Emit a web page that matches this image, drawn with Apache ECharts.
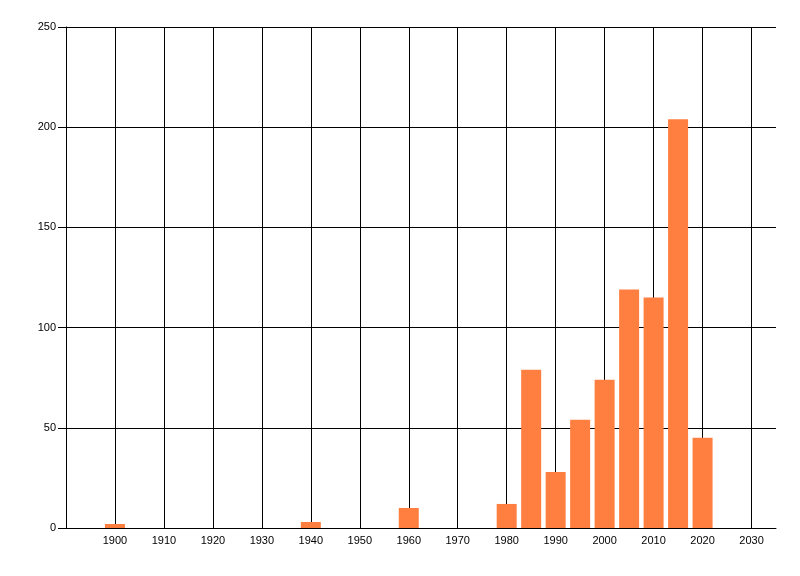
<!DOCTYPE html>
<html>
<head>
<meta charset="utf-8">
<script src="https://cdn.jsdelivr.net/npm/echarts@6/dist/echarts.min.js"></script>
<style>
html,body{margin:0;padding:0;background:#fff;}
#chart{width:800px;height:576px;}
</style>
</head>
<body>
<div id="chart"></div>
<script>
const years = [1900, 1940, 1960, 1980, 1985, 1990, 1995, 2000, 2005, 2010, 2015, 2020];
const counts = [2, 3, 10, 12, 79, 28, 54, 74, 119, 115, 204, 45];
const yTicks = [0, 50, 100, 150, 200, 250];

const chart = echarts.init(document.getElementById('chart'), null, {renderer: 'canvas'});
const fontFamily = '"Liberation Sans", Arial, sans-serif';
chart.setOption({
  animation: false,
  backgroundColor: '#ffffff',
  grid: {left: 66, right: 24, top: 27, bottom: 48, containLabel: false},
  xAxis: {
    type: 'value',
    min: 1890,
    max: 2035,
    interval: 10,
    axisLine: {show: true, lineStyle: {color: '#000', width: 1}},
    axisTick: {show: false},
    axisLabel: {
      color: '#000', fontSize: 11, fontFamily: fontFamily, margin: 7,
      showMinLabel: false, showMaxLabel: false,
      formatter: v => (v === 1890 || v === 2035) ? '' : String(v)
    },
    splitLine: {show: true, showMinLine: false, showMaxLine: false, lineStyle: {color: '#000', width: 1}}
  },
  yAxis: {
    type: 'value',
    min: yTicks[0],
    max: yTicks[yTicks.length - 1],
    interval: 50,
    axisLine: {show: true, lineStyle: {color: '#000', width: 1}},
    axisTick: {show: true, inside: false, length: 8, lineStyle: {color: '#000', width: 1}},
    axisLabel: {color: '#000', fontSize: 11, fontFamily: fontFamily, margin: 10},
    splitLine: {show: true, showMinLine: false, lineStyle: {color: '#000', width: 1}}
  },
  series: [{
    type: 'bar',
    data: years.map((y, i) => [y, counts[i]]),
    barWidth: 20,
    itemStyle: {color: '#FF7F40'},
    z: 1
  }]
});
</script>
</body>
</html>
